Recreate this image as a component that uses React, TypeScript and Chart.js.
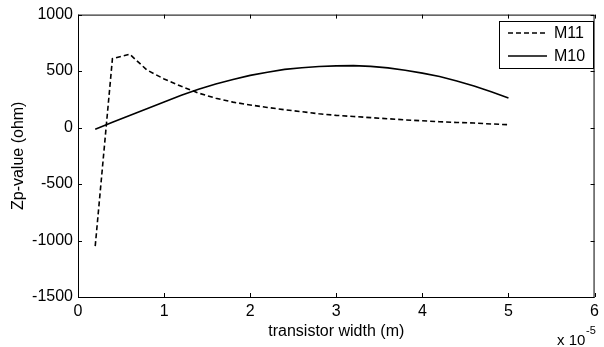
import React, { useEffect, useRef } from "react";
import { Chart, registerables } from "chart.js";

Chart.register(...registerables);

// transistor width in units of 1e-5 m
const widths = [0.2, 0.4, 0.6, 0.8, 1.0, 1.2, 1.4, 1.6, 1.8, 2.0, 2.2, 2.4, 2.6, 2.8, 3.0, 3.2, 3.4, 3.6, 3.8, 4.0, 4.2, 4.4, 4.6, 4.8, 5.0];
const m11Values = [-1050, 610, 650, 510, 430, 365, 305, 260, 225, 200, 178, 158, 140, 122, 108, 98, 88, 78, 68, 60, 52, 45, 40, 32, 25];
const m10Values = [-15, 46, 106, 166, 226, 287, 340, 385, 425, 462, 490, 515, 530, 540, 546, 548, 542, 528, 508, 482, 452, 412, 367, 316, 262];
const xTicks = [0, 1, 2, 3, 4, 5, 6];
const yTicks = [-1500, -1000, -500, 0, 500, 1000];
const seriesNames = ["M11", "M10"];

const FONT = "Arial, 'Liberation Sans', sans-serif";

const boxPlugin = {
  id: "matlabBox",
  afterDraw(chart: any) {
    const { ctx, chartArea: a, scales } = chart;
    const xs = scales.x;
    const ys = scales.y;
    ctx.save();
    ctx.strokeStyle = "#000";
    ctx.lineWidth = 1;
    ctx.setLineDash([]);
    ctx.strokeRect(a.left + 0.5, a.top + 0.5, a.right - a.left - 1, a.bottom - a.top);
    const tl = 4;
    ctx.beginPath();
    xTicks.forEach((v) => {
      const px = Math.round(xs.getPixelForValue(v)) + 0.5;
      ctx.moveTo(px, a.bottom);
      ctx.lineTo(px, a.bottom - tl);
      ctx.moveTo(px, a.top);
      ctx.lineTo(px, a.top + tl);
    });
    yTicks.forEach((v) => {
      const py = Math.round(ys.getPixelForValue(v)) + 0.5;
      ctx.moveTo(a.left, py);
      ctx.lineTo(a.left + tl, py);
      ctx.moveTo(a.right, py);
      ctx.lineTo(a.right - tl, py);
    });
    ctx.stroke();

    // exponent note
    ctx.fillStyle = "#000";
    ctx.font = `15px ${FONT}`;
    ctx.textBaseline = "alphabetic";
    ctx.textAlign = "left";
    ctx.fillText("x 10", 557, 345);
    ctx.font = `11px ${FONT}`;
    ctx.fillText("-5", 586, 334);

    // legend
    const lx = 499, ly = 21, lw = 94, lh = 47;
    ctx.fillStyle = "#fff";
    ctx.fillRect(lx, ly, lw, lh);
    ctx.strokeStyle = "#000";
    ctx.lineWidth = 1;
    ctx.strokeRect(lx + 0.5, ly + 0.5, lw, lh);
    const rows = [
      { name: seriesNames[0], dash: [5, 3], y: 33 },
      { name: seriesNames[1], dash: [], y: 56 },
    ];
    rows.forEach((r) => {
      ctx.beginPath();
      ctx.setLineDash(r.dash);
      ctx.lineWidth = 1.5;
      ctx.moveTo(508, r.y);
      ctx.lineTo(547, r.y);
      ctx.stroke();
      ctx.setLineDash([]);
      ctx.fillStyle = "#000";
      ctx.font = `16px ${FONT}`;
      ctx.textBaseline = "middle";
      ctx.fillText(r.name, 554, r.y + 1);
    });
    ctx.restore();
  },
};

export default function App() {
  const ref = useRef<HTMLCanvasElement | null>(null);
  useEffect(() => {
    document.body.style.margin = "0";
    const canvas = ref.current!;
    const chart = new Chart(canvas, {
      type: "line",
      data: {
        datasets: [
          {
            label: seriesNames[0],
            data: widths.map((w, i) => ({ x: w, y: m11Values[i] })),
            borderColor: "#000",
            borderWidth: 1.6,
            borderDash: [5, 3],
            pointRadius: 0,
            tension: 0,
            fill: false,
          },
          {
            label: seriesNames[1],
            data: widths.map((w, i) => ({ x: w, y: m10Values[i] })),
            borderColor: "#000",
            borderWidth: 1.6,
            pointRadius: 0,
            tension: 0,
            fill: false,
          },
        ],
      },
      options: {
        animation: false,
        responsive: false,
        devicePixelRatio: 1,
        layout: { padding: { top: 14, right: 6, left: 0, bottom: 0 } },
        plugins: { legend: { display: false }, tooltip: { enabled: false } },
        scales: {
          x: {
            type: "linear",
            min: 0,
            max: 6,
            afterBuildTicks: (s: any) => {
              s.ticks = xTicks.map((v) => ({ value: v }));
            },
            afterFit: (s: any) => {
              s.height = 50;
            },
            grid: { display: false, drawTicks: false },
            border: { display: false },
            ticks: {
              color: "#000",
              font: { family: FONT, size: 16 },
              padding: 5,
              maxRotation: 0,
              callback: (v: any) => String(v),
            },
            title: {
              display: true,
              text: "transistor width (m)",
              color: "#000",
              font: { family: FONT, size: 16 },
              padding: { top: 0, bottom: 6 },
            },
          },
          y: {
            type: "linear",
            min: -1500,
            max: 1000,
            afterBuildTicks: (s: any) => {
              s.ticks = yTicks.map((v) => ({ value: v }));
            },
            afterFit: (s: any) => {
              s.width = 78;
            },
            grid: { display: false, drawTicks: false },
            border: { display: false },
            ticks: {
              color: "#000",
              font: { family: FONT, size: 16 },
              padding: 5,
              callback: (v: any) => String(v),
            },
            title: {
              display: true,
              text: "Zp-value (ohm)",
              color: "#000",
              font: { family: FONT, size: 16 },
              padding: { top: 9, bottom: 0 },
            },
          },
        },
      },
      plugins: [boxPlugin],
    });
    return () => chart.destroy();
  }, []);
  return <canvas ref={ref} width={604} height={347} style={{ display: "block" }} />;
}
